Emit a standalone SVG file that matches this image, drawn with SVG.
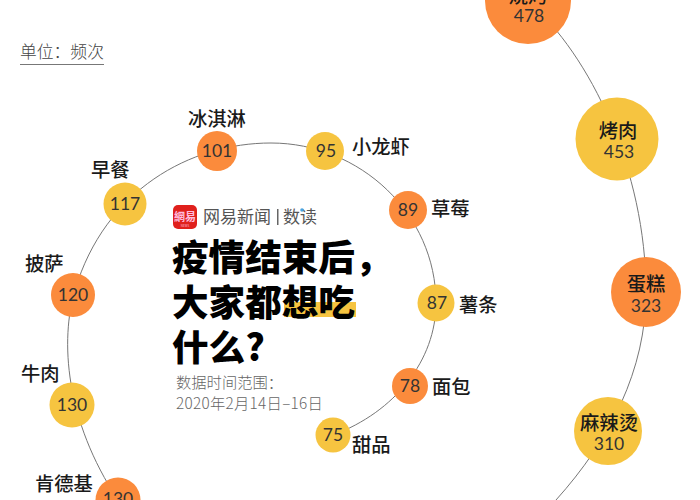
<svg xmlns="http://www.w3.org/2000/svg" width="700" height="500" viewBox="0 0 700 500">
<style>
text{font-family:"Noto Sans CJK SC","Noto Sans",sans-serif;fill:#1a1a1a}
.n{font-family:Lato,"Noto Sans",sans-serif;font-size:17.500px;font-weight:400;text-anchor:middle;fill:#333}
.nl{font-family:Lato,"Noto Sans",sans-serif;font-size:17.500px;font-weight:400;text-anchor:middle;fill:#333}
.l{font-size:19.300px;font-weight:500}
.c{font-size:19.300px;font-weight:500;text-anchor:middle}
.t{font-size:36.600px;font-weight:900;fill:#000}
.s{font-size:15.300px;font-weight:300;fill:#666}
.o{fill:#fb8b3c}.y{fill:#f6c440}
#connectors path{fill:none;stroke:#777;stroke-width:1}
</style>
<rect width="700" height="500" fill="#fff"/>
<g id="connectors">
<path d="M333 435C395 412 436 360 436 303C436 214 360 143 271 143C190 143 105 190 75 290C60 340 65 420 118 500"/>
<path d="M528 1C590 55 646 170 646 292C646 370 610 440 556 500"/>
</g>
<g id="unit"><text x="20" y="58" font-size="16.800" font-weight="300" style="fill:#444">单位：频次</text><line x1="20" y1="64.500" x2="104" y2="64.500" stroke="#777"/></g>
<g id="title">
<rect x="284" y="302" width="72" height="15" fill="#f6c440"/>
<rect x="173" y="205" width="24" height="24" rx="5" fill="#e0201c"/>
<text x="185" y="221" font-size="11" font-weight="700" text-anchor="middle" style="fill:#fbd">網易</text>
<text x="185" y="227" font-size="3" text-anchor="middle" style="fill:#fbd">NEWS</text>
<text x="203" y="223" font-size="17" style="fill:#555">网易新闻</text>
<rect x="277" y="209" width="1.500" height="16" fill="#666"/>
<text x="283" y="223" font-size="17" style="fill:#555">数读</text>
<circle cx="302" cy="210" r="1.800" fill="#4aa3df"/>
<text class="t" x="172" y="271">疫情结束后，</text>
<text class="t" x="172" y="316">大家都想吃</text>
<text class="t" x="172" y="361">什么?</text>
<text class="s" x="176" y="388">数据时间范围：</text>
<text class="s" x="176" y="409" letter-spacing=".3">2020年2月14日–16日</text>
</g>
<g id="n1"><circle class="o" cx="528" cy="1" r="43"/><text class="c" x="528" y="3">烧烤</text><text class="n" x="529" y="22">478</text></g>
<g id="n2"><circle class="y" cx="617" cy="139" r="41.500"/><text class="c" x="618" y="138">烤肉</text><text class="n" x="619" y="158">453</text></g>
<g id="n3"><circle class="o" cx="646" cy="292" r="35"/><text class="c" x="646" y="291">蛋糕</text><text class="n" x="646" y="312">323</text></g>
<g id="n4"><circle class="y" cx="608" cy="431" r="34"/><text class="c" x="609" y="430">麻辣烫</text><text class="n" x="609" y="450">310</text></g>
<g id="n5"><circle class="o" cx="217" cy="151" r="20"/><text class="nl" x="217" y="157">101</text><text class="l" x="188" y="126">冰淇淋</text></g>
<g id="n6"><circle class="y" cx="325" cy="151" r="19"/><text class="nl" x="326" y="157">95</text><text class="l" x="352" y="154">小龙虾</text></g>
<g id="n7"><circle class="o" cx="408" cy="210" r="19"/><text class="nl" x="408" y="216">89</text><text class="l" x="431" y="216">草莓</text></g>
<g id="n8"><circle class="y" cx="436" cy="303" r="18.500"/><text class="nl" x="437" y="309">87</text><text class="l" x="459" y="312">薯条</text></g>
<g id="n9"><circle class="o" cx="410" cy="386" r="18"/><text class="nl" x="410" y="392">78</text><text class="l" x="432" y="394">面包</text></g>
<g id="n10"><circle class="y" cx="333" cy="435" r="17.500"/><text class="nl" x="333" y="441">75</text><text class="l" x="352" y="452">甜品</text></g>
<g id="n11"><circle class="y" cx="125" cy="204" r="21.500"/><text class="nl" x="125" y="210">117</text><text class="l" x="91" y="177">早餐</text></g>
<g id="n12"><circle class="o" cx="73" cy="295" r="22"/><text class="nl" x="73" y="301">120</text><text class="l" x="25" y="271">披萨</text></g>
<g id="n13"><circle class="y" cx="72" cy="405" r="22.500"/><text class="nl" x="72" y="411">130</text><text class="l" x="21" y="381">牛肉</text></g>
<g id="n14"><circle class="o" cx="118" cy="500" r="22.500"/><text class="nl" x="118" y="505">130</text><text class="l" x="35" y="491">肯德基</text></g>
</svg>
